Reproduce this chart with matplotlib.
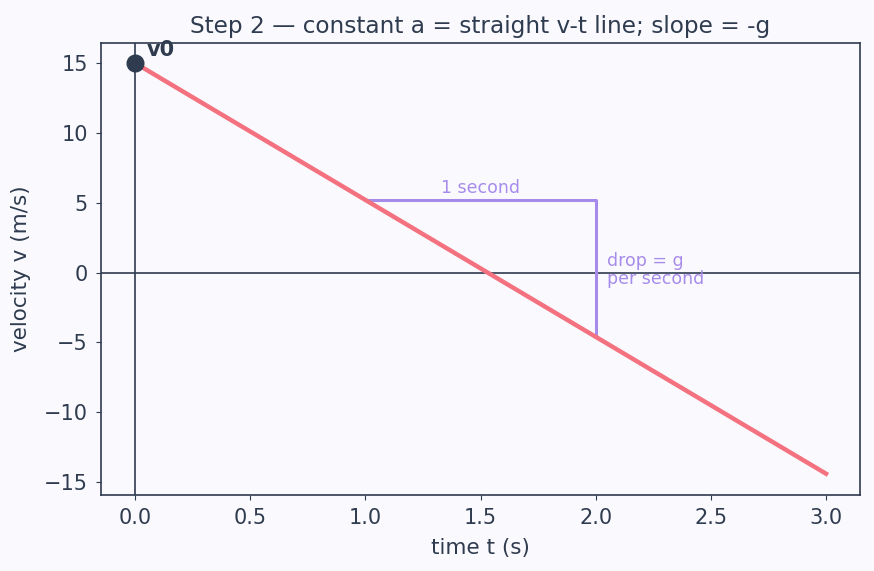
import numpy as np
import matplotlib
matplotlib.use("Agg")
import matplotlib.pyplot as plt

# data
v0 = 15.0
g = 9.8
t = np.array([0.0, 3.0])
v = v0 - g * t
step_t = [1.0, 2.0]

ink = "#2f3b4f"
pink = "#f4717f"
purple = "#a78bea"
bg = "#fafafe"

plt.rcParams["font.family"] = "DejaVu Sans"
fig = plt.figure(figsize=(8.74, 5.71), dpi=100, facecolor=bg)
ax = fig.add_axes([0.1156, 0.133, 0.8685, 0.792])
ax.set_facecolor(bg)

ax.plot(t, v, color=pink, lw=3.2, zorder=3)
ax.axhline(0, color=ink, lw=1.2, zorder=1)
ax.axvline(0, color=ink, lw=1.2, zorder=1)

# slope triangle
va = v0 - g * step_t[0]
vb = v0 - g * step_t[1]
ax.plot([step_t[0], step_t[1], step_t[1]], [va, va, vb], color=purple, lw=2.2, zorder=2)
ax.text((step_t[0] + step_t[1]) / 2, va + 0.2, "1 second", color=purple,
        fontsize=12.5, ha="center", va="bottom")
ax.text(step_t[1] + 0.05, 0.2, "drop = g\nper second", color=purple,
        fontsize=12.5, ha="left", va="center", linespacing=1.0)

ax.plot([0], [v0], "o", color=ink, ms=12, zorder=4)
ax.annotate("v0", (0, v0), xytext=(8, 5), textcoords="offset points",
            fontsize=15, fontweight="bold", color=ink)

ax.set_xlim(-0.148, 3.148)
ax.set_ylim(-15.93, 16.45)
ax.set_xticks(np.arange(0, 3.01, 0.5))
ax.set_yticks([-15, -10, -5, 0, 5, 10, 15])
ax.set_title("Step 2 \u2014 constant a = straight v-t line; slope = -g", color=ink,
             fontsize=16.7, pad=7)
ax.set_xlabel("time t (s)", color=ink, fontsize=15.5, labelpad=7)
ax.set_ylabel("velocity v (m/s)", color=ink, fontsize=15.5, labelpad=9)
ax.tick_params(colors=ink, labelsize=15, pad=6)
for s in ax.spines.values():
    s.set_color(ink)
    s.set_linewidth(1.2)

fig.savefig("out.png", dpi=100, facecolor=bg)
